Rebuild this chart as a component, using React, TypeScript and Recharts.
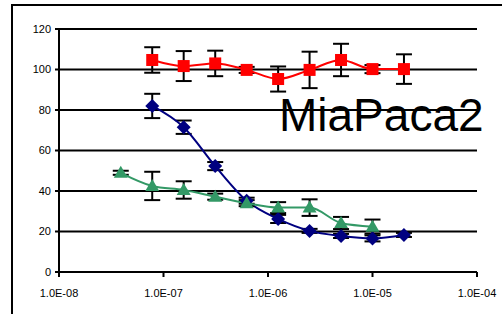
import React from 'react';
import { LineChart, Line, XAxis, YAxis, CartesianGrid, ErrorBar } from 'recharts';

// concentrations (M)
const greenConc = [3.9e-8, 7.8e-8, 1.56e-7, 3.125e-7, 6.25e-7, 1.25e-6, 2.5e-6, 5e-6, 1e-5];
const conc = [7.8e-8, 1.56e-7, 3.125e-7, 6.25e-7, 1.25e-6, 2.5e-6, 5e-6, 1e-5, 2e-5];

const redValues = [104.7, 101.7, 103, 99.8, 95.3, 99.8, 104.7, 100.2, 100.2];
const redErr = [6.3, 7.4, 6.3, 1.5, 6.2, 9, 8, 2, 7.3];

const blueValues = [82, 71.5, 52.3, 35.2, 26.2, 20.3, 17.8, 16.6, 18.3];
const blueErr = [6, 3.3, 2, 1.5, 2, 1, 1, 1.5, 1];

const greenValues = [49, 42.5, 40.5, 37.2, 34, 31.8, 31.8, 24.2, 22.4];
const greenErr = [1, 7, 4.3, 1.5, 1.5, 2.7, 4.1, 3, 3.5];

const xTicks = [1e-8, 1e-7, 1e-6, 1e-5, 1e-4];
const xTickLabels = ['1.0E-08', '1.0E-07', '1.0E-06', '1.0E-05', '1.0E-04'];
const yTicks = [0, 20, 40, 60, 80, 100, 120];

const build = (xs: number[], ys: number[], es: number[]) =>
  xs.map((x, i) => ({ x, y: ys[i], err: es[i] }));

const redData = build(conc, redValues, redErr);
const blueData = build(conc, blueValues, blueErr);
const greenData = build(greenConc, greenValues, greenErr);

const Square = (props: any) => {
  const { cx, cy, index } = props;
  return <rect key={`s${index}`} x={cx - 6} y={cy - 6} width={12} height={12} fill="#ff0000" />;
};

const Diamond = (props: any) => {
  const { cx, cy, index } = props;
  return (
    <polygon
      key={`d${index}`}
      points={`${cx},${cy - 7} ${cx + 7},${cy} ${cx},${cy + 7} ${cx - 7},${cy}`}
      fill="#000080"
    />
  );
};

const Triangle = (props: any) => {
  const { cx, cy, index } = props;
  return (
    <polygon
      key={`t${index}`}
      points={`${cx},${cy - 7} ${cx + 7},${cy + 5} ${cx - 7},${cy + 5}`}
      fill="#339966"
    />
  );
};

const font = '"Liberation Sans", Arial, sans-serif';

export default function App() {
  return (
    <div
      style={{
        position: 'fixed',
        left: 0,
        top: 0,
        width: 502,
        height: 314,
        overflow: 'hidden',
        background: '#fff',
      }}
    >
      <div
        style={{
          position: 'absolute',
          left: 11,
          top: 4,
          width: 600,
          height: 400,
          borderLeft: '2px solid #000',
          borderTop: '2px solid #000',
        }}
      />
      <div style={{ position: 'absolute', left: 0, top: 0 }}>
        <LineChart width={502} height={314} margin={{ top: 29, right: 25, bottom: 12, left: 9 }}>
          <CartesianGrid vertical={false} stroke="#000" strokeWidth={2} />
          <XAxis
            dataKey="x"
            type="number"
            scale="log"
            domain={[1e-8, 1e-4]}
            ticks={xTicks}
            allowDataOverflow
            height={30}
            tickSize={5}
            tickMargin={12}
            axisLine={{ stroke: '#000', strokeWidth: 2 }}
            tickLine={{ stroke: '#000', strokeWidth: 2 }}
            tick={{ fill: '#000', fontSize: 11, fontFamily: font }}
            tickFormatter={(v: number) => xTickLabels[xTicks.indexOf(v)] ?? ''}
          />
          <YAxis
            type="number"
            domain={[0, 120]}
            ticks={yTicks}
            width={50}
            tickSize={4}
            tickMargin={4}
            axisLine={{ stroke: '#000', strokeWidth: 2 }}
            tickLine={{ stroke: '#000', strokeWidth: 2 }}
            tick={{ fill: '#000', fontSize: 11, fontFamily: font }}
          />
          <Line
            data={blueData}
            dataKey="y"
            type="monotone"
            stroke="#000080"
            strokeWidth={2}
            dot={Diamond}
            isAnimationActive={false}
          >
            <ErrorBar dataKey="err" direction="y" width={8} stroke="#000" strokeWidth={2} />
          </Line>
          <Line
            data={greenData}
            dataKey="y"
            type="monotone"
            stroke="#339966"
            strokeWidth={2}
            dot={Triangle}
            isAnimationActive={false}
          >
            <ErrorBar dataKey="err" direction="y" width={8} stroke="#000" strokeWidth={2} />
          </Line>
          <Line
            data={redData}
            dataKey="y"
            type="monotone"
            stroke="#ff0000"
            strokeWidth={2}
            dot={Square}
            isAnimationActive={false}
          >
            <ErrorBar dataKey="err" direction="y" width={8} stroke="#000" strokeWidth={2} />
          </Line>
        </LineChart>
      </div>
      <div
        style={{
          position: 'absolute',
          left: 279,
          top: 89,
          fontFamily: font,
          fontSize: 46,
          lineHeight: '52px',
          color: '#000',
          whiteSpace: 'nowrap',
        }}
      >
        MiaPaca2
      </div>
    </div>
  );
}
